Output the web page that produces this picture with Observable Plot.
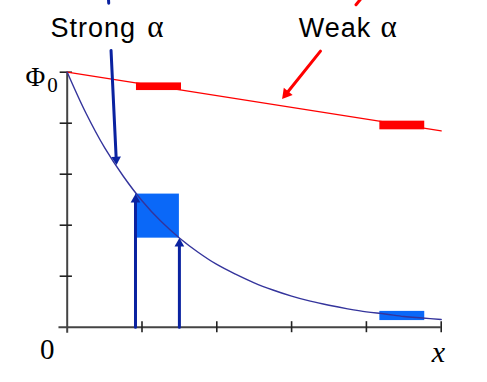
<!DOCTYPE html>
<html><head><meta charset="utf-8">
<script src="https://cdn.jsdelivr.net/npm/d3@7"></script>
<script src="https://cdn.jsdelivr.net/npm/@observablehq/plot@0.6"></script>
<style>body{margin:0;background:#fff}</style>
</head><body><div id="chart"></div>
<script>
// ticks
const xTicks = [1, 2, 3, 4, 5];
const yTicks = [1, 2, 3, 4, 5];
// strong-absorption curve
const curveX = [0, 0.25, 0.5, 0.75, 1, 1.25, 1.5, 1.75, 2, 2.25, 2.5, 2.75, 3, 3.25, 3.5, 3.75, 4, 4.25, 4.5, 4.75, 5];
const curveY = [5, 4.20, 3.52, 2.96, 2.48, 2.08, 1.75, 1.47, 1.23, 1.04, 0.87, 0.73, 0.61, 0.51, 0.43, 0.36, 0.30, 0.26, 0.21, 0.18, 0.15];
// weak-absorption line
const weakX = [0, 5];
const weakY = [5, 3.85];
// blue boxes
const boxX1 = [0.913, 4.18], boxX2 = [1.50, 4.78], boxY1 = [1.746, 0.13], boxY2 = [2.61, 0.31];
// red bars
const barX1 = [0.926, 4.18], barX2 = [1.528, 4.78], barY1 = [4.64, 3.87], barY2 = [4.79, 4.04];
// vertical arrows
const upX = [0.913, 1.50], upTip = [2.61, 1.746];
// strong arrow
const sTopX = [0.552, 0.555], sTopY = [6.431, 6.352];
const sArrX = [0.586, 0.659], sArrY = [5.427, 3.183];
// weak arrow
const wTopX = [3.921, 3.861], wTopY = [6.431, 6.323];
const wArrX = [3.386, 2.874], wArrY = [5.413, 4.476];
// labels
const labelWords = ["Strong", "Weak"], wordX = [-0.223, 3.096], alphaX = [1.07, 4.19], labelY = 5.697;

const curve = curveX.map((x, i) => ({x, y: curveY[i]}));
const weak = weakX.map((x, i) => ({x, y: weakY[i]}));
const boxes = boxX1.map((x1, i) => ({x1, x2: boxX2[i], y1: boxY1[i], y2: boxY2[i]}));
const bars = barX1.map((x1, i) => ({x1, x2: barX2[i], y1: barY1[i], y2: barY2[i]}));
const ups = upX.map((x, i) => ({x, tip: upTip[i]}));

const navy = "#34349c", arrowBlue = "#0a22a0", red = "#ff0000", blue = "#0a68f8";
const serif = "Liberation Serif", sans = "Liberation Sans";

const plot = Plot.plot({
  width: 487, height: 382,
  marginLeft: 66.7, marginRight: 46.3, marginTop: 71.7, marginBottom: 55.3,
  x: {domain: [0, 5], axis: null},
  y: {domain: [0, 5], axis: null},
  marks: [
    // axes
    Plot.ruleY([0], {x1: -0.11, x2: 5, stroke: "#444", strokeWidth: 2}),
    Plot.ruleX([0], {y1: -0.12, y2: 5, stroke: "#444", strokeWidth: 2}),
    Plot.ruleX(xTicks, {y1: -0.108, y2: 0.108, stroke: "#222", strokeWidth: 1.6}),
    Plot.ruleY(yTicks, {x1: -0.094, x2: 0.07, stroke: "#222", strokeWidth: 1.6}),
    // weak line and bars
    Plot.line(weak, {x: "x", y: "y", stroke: red, strokeWidth: 1.3}),
    Plot.rect(bars, {x1: "x1", x2: "x2", y1: "y1", y2: "y2", fill: red}),
    // blue boxes
    Plot.rect(boxes, {x1: "x1", x2: "x2", y1: "y1", y2: "y2", fill: blue}),
    // curve
    Plot.line(curve, {x: "x", y: "y", stroke: navy, strokeWidth: 1.4, curve: "catmull-rom"}),
    // vertical arrows
    Plot.arrow(ups, {x: "x", y1: 0, y2: "tip", stroke: arrowBlue, strokeWidth: 3, headLength: 0, insetEnd: 6}),
    Plot.dot(ups, {x: "x", y: "tip", symbol: "triangle", r: 3.6, fill: arrowBlue, stroke: null, dy: 5.5}),
    // strong arrow
    Plot.line(sTopX.map((x, i) => ({x, y: sTopY[i]})), {x: "x", y: "y", stroke: arrowBlue, strokeWidth: 3}),
    Plot.arrow([0], {x1: () => sArrX[0], y1: () => sArrY[0], x2: () => sArrX[1], y2: () => sArrY[1], stroke: arrowBlue, strokeWidth: 3, headLength: 0, insetEnd: 6}),
    Plot.dot([0], {x: () => sArrX[1], y: () => sArrY[1], symbol: "triangle", r: 3.6, fill: arrowBlue, stroke: null, rotate: 177.2, dx: -0.26, dy: -5.4}),
    // weak arrow
    Plot.line(wTopX.map((x, i) => ({x, y: wTopY[i]})), {x: "x", y: "y", stroke: red, strokeWidth: 3}),
    Plot.arrow([0], {x1: () => wArrX[0], y1: () => wArrY[0], x2: () => wArrX[1], y2: () => wArrY[1], stroke: red, strokeWidth: 3, headLength: 0, insetEnd: 6}),
    Plot.dot([0], {x: () => wArrX[1], y: () => wArrY[1], symbol: "triangle", r: 4.2, fill: red, stroke: null, rotate: 218.8, dx: 4.0, dy: -5.0}),
    // labels
    Plot.text(labelWords, {x: (d, i) => wordX[i], y: labelY, text: d => d, textAnchor: "start", lineAnchor: "bottom", fontSize: 27, fontFamily: sans, fill: "#000"}),
    Plot.text(labelWords, {x: (d, i) => alphaX[i], y: labelY, text: () => "α", textAnchor: "start", lineAnchor: "bottom", fontSize: 31, fontFamily: serif, fill: "#000"}),
    Plot.text(["Φ"], {x: -0.557, y: 4.728, text: d => d, textAnchor: "start", lineAnchor: "bottom", fontSize: 27, fontFamily: serif, fill: "#000"}),
    Plot.text(["0"], {x: -0.267, y: 4.606, text: d => d, textAnchor: "start", lineAnchor: "bottom", fontSize: 21, fontFamily: serif, fill: "#000"}),
    Plot.text(["0"], {x: -0.267, y: -0.622, text: d => d, textAnchor: "middle", lineAnchor: "bottom", fontSize: 29, fontFamily: serif, fill: "#000"}),
    Plot.text(["x"], {x: 4.964, y: -0.689, text: d => d, textAnchor: "middle", lineAnchor: "bottom", fontSize: 30, fontFamily: serif, fontStyle: "italic", fill: "#000"})
  ]
});
plot.querySelectorAll("text").forEach(t => { if (t.textContent === "Strong" || t.textContent === "Weak") t.setAttribute("letter-spacing", "1"); });
document.getElementById("chart").appendChild(plot);
</script>
</body></html>
